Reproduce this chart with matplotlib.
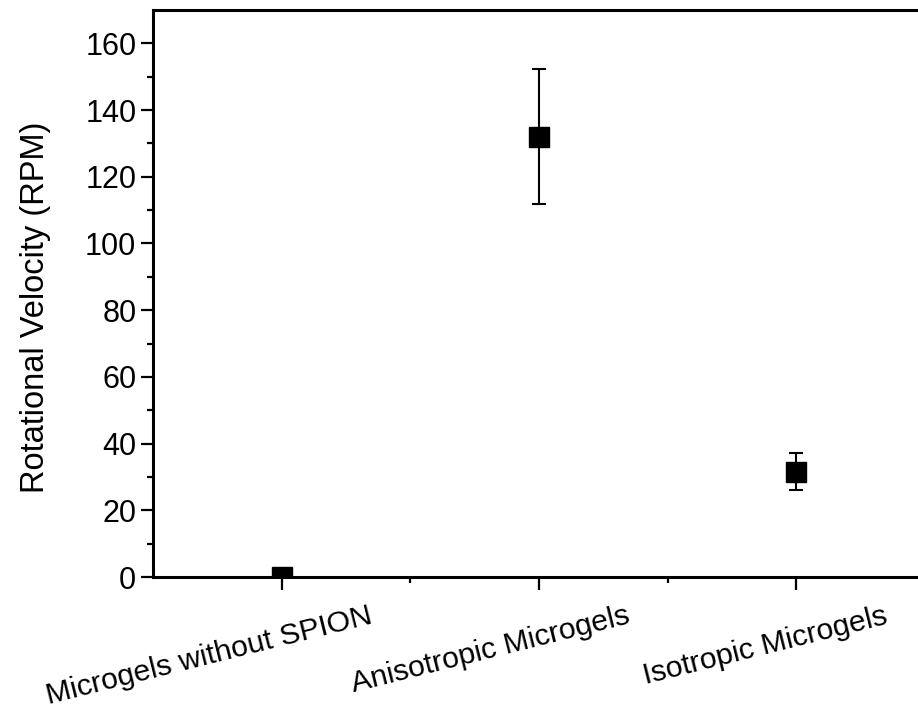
import numpy as np
import matplotlib.pyplot as plt
import matplotlib.transforms as mtransforms

plt.rcParams['font.family'] = ['Liberation Sans', 'DejaVu Sans']

# 数据
categories = ['Microgels without SPION', 'Anisotropic Microgels', 'Isotropic Microgels']
velocity = [0.0, 132.0, 31.6]
velocity_err = [0.0, 20.3, 5.6]

fig = plt.figure(figsize=(9.18, 7.15), dpi=100)
ax = fig.add_axes([0.1667, 0.193, 0.841, 0.793])

xpos = np.arange(1, len(categories) + 1)
ax.errorbar(xpos, velocity, yerr=velocity_err, fmt='s', color='black',
            markersize=15, elinewidth=1.5, capsize=5, capthick=1.5, ecolor='black')

ax.set_xlim(0.5, 3.5)
ax.set_ylim(0, 170)
ax.set_yticks(np.arange(0, 161, 20))
ax.set_yticks(np.arange(10, 170, 20), minor=True)
ax.set_xticks(xpos)
ax.set_xticks([1.5, 2.5], minor=True)

for s in ax.spines.values():
    s.set_linewidth(2.2)

ax.tick_params(axis='both', which='major', length=9, width=1.6, labelsize=22, pad=6)
ax.tick_params(axis='y', which='major', pad=3)
ax.tick_params(axis='both', which='minor', length=4.5, width=1.6)

ax.set_xticklabels(categories, fontsize=21.7, rotation=14, ha='right', va='top',
                   rotation_mode='anchor')
# 标签右端整体右移
off = mtransforms.ScaledTranslation(0.87, -0.04, fig.dpi_scale_trans)
for lab in ax.get_xticklabels():
    lab.set_transform(lab.get_transform() + off)

ax.set_ylabel('Rotational Velocity (RPM)', fontsize=23.5)
ax.yaxis.set_label_coords(-0.132, 0.476)

fig.savefig('out.png', dpi=100)
